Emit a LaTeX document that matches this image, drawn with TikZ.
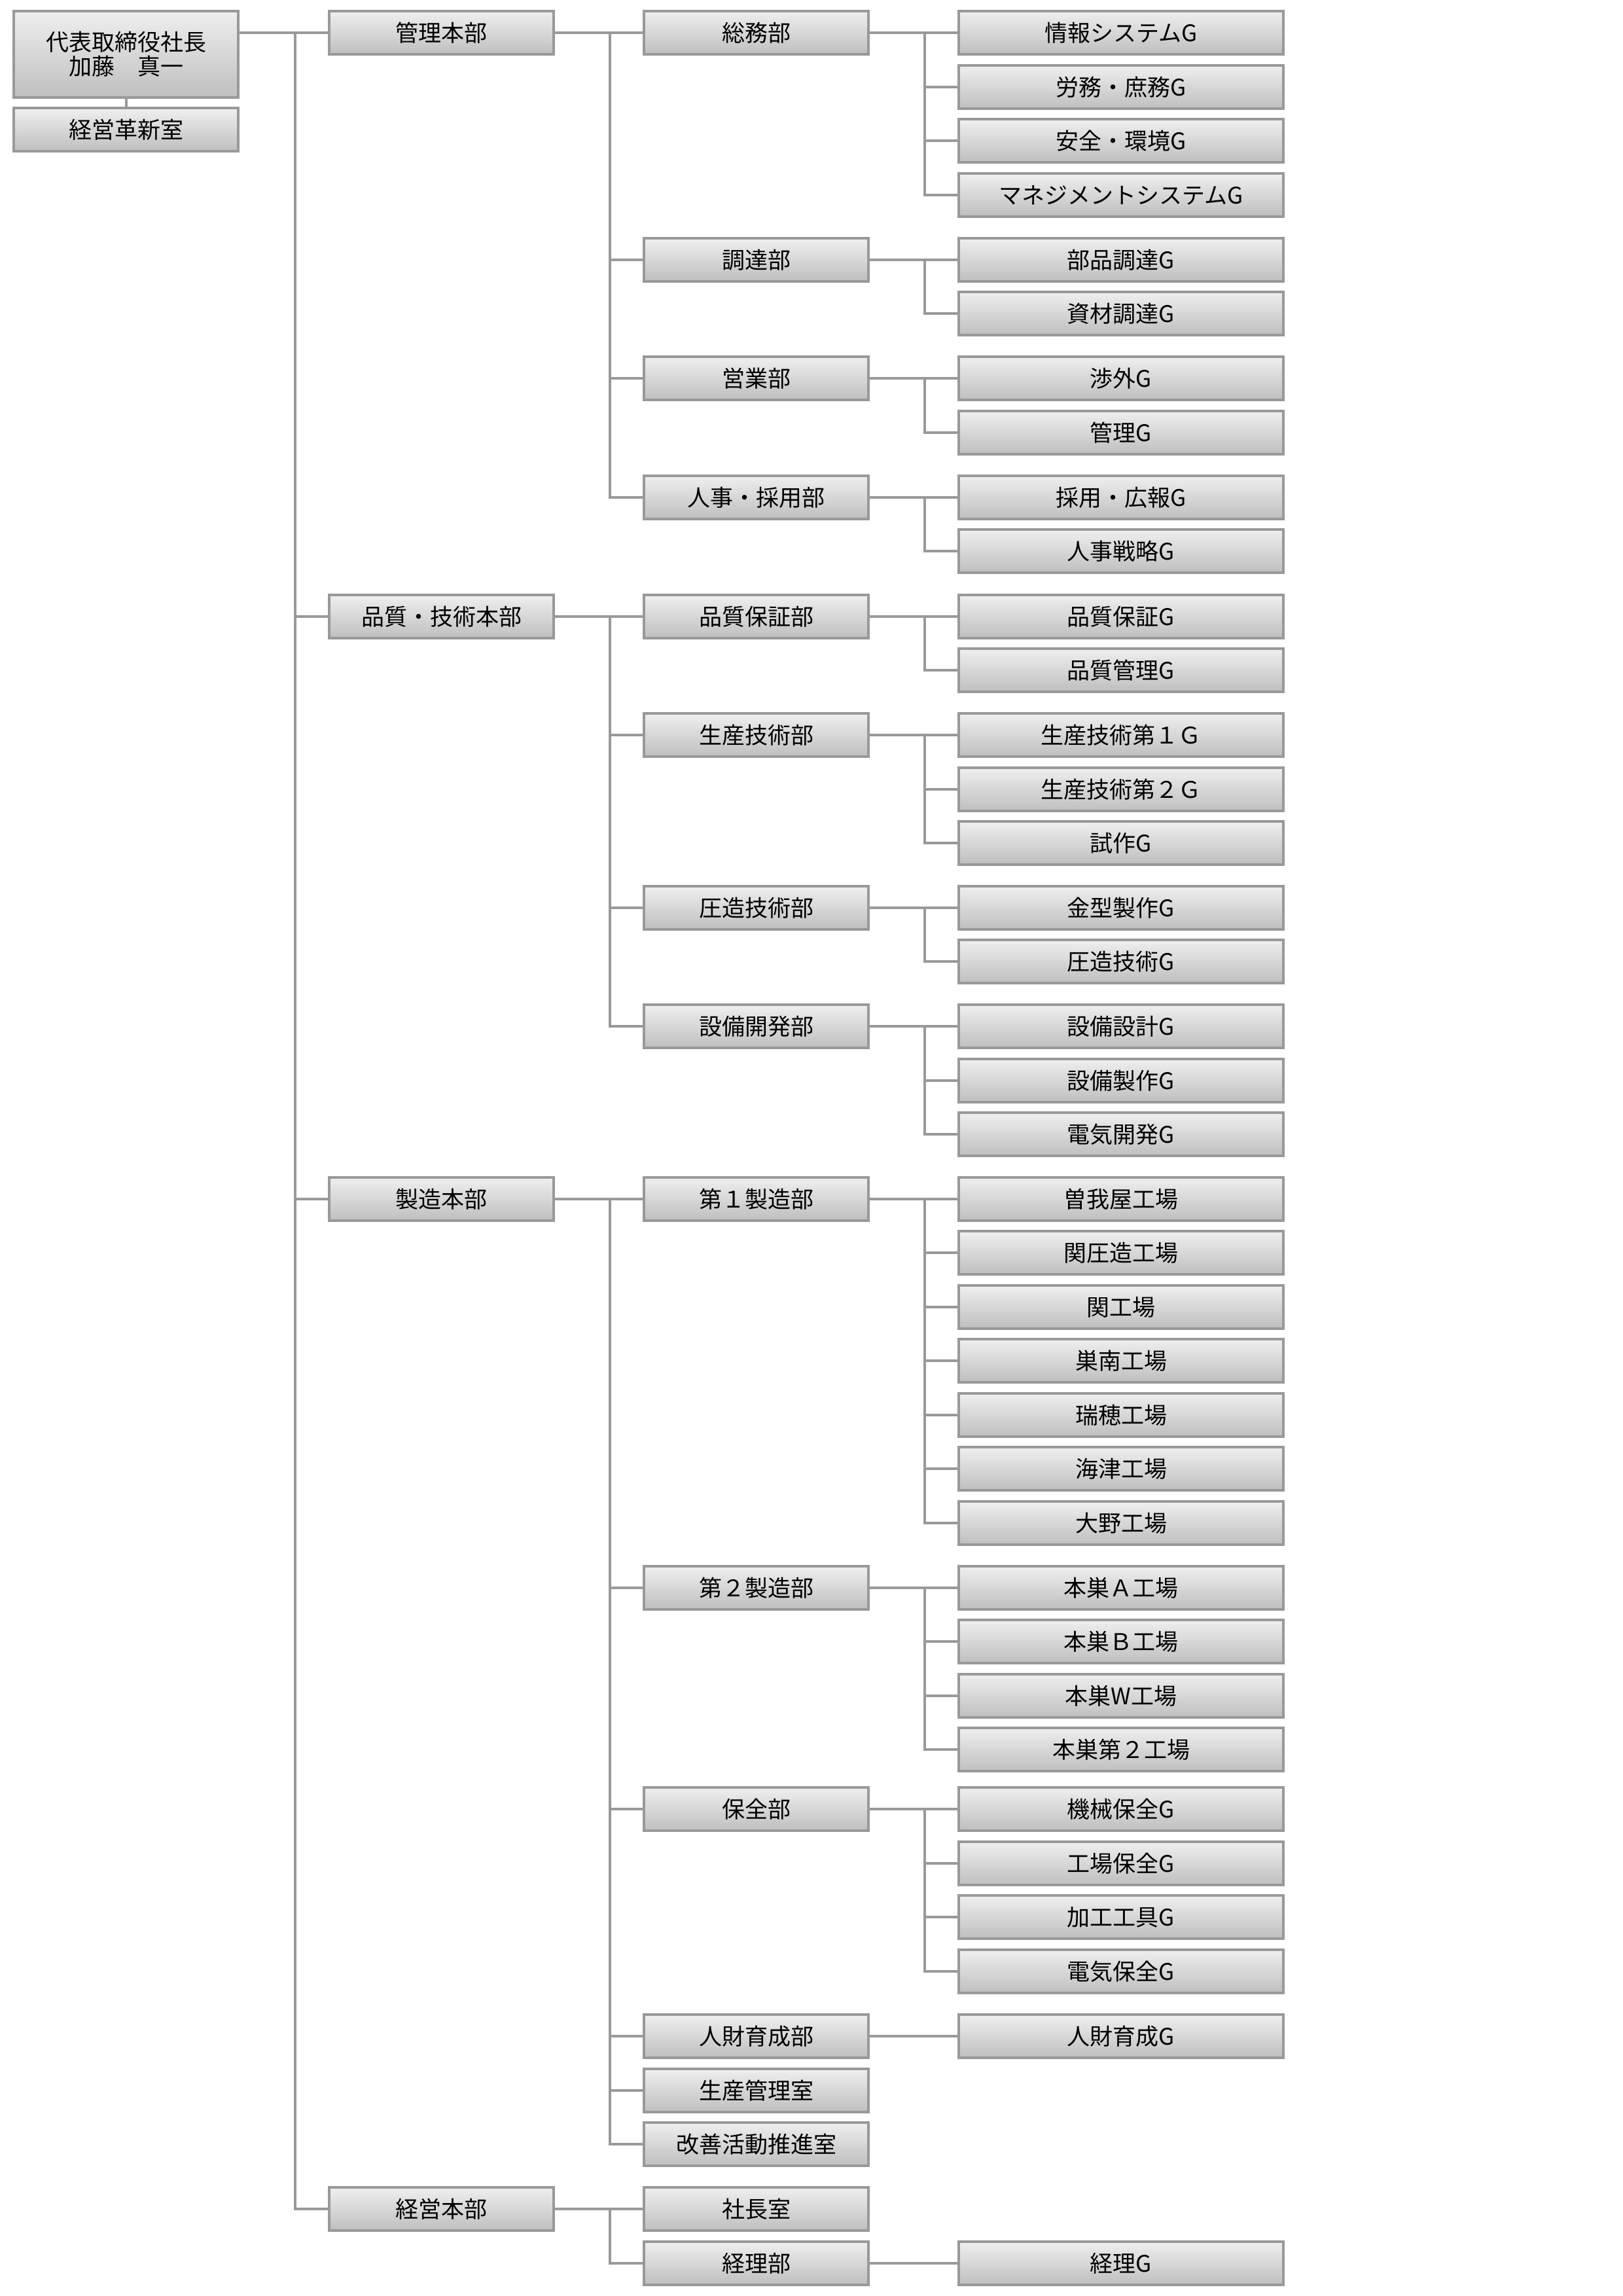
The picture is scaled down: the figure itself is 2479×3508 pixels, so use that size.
\documentclass[tikz,border=0pt]{standalone}
\usepackage{fontspec}
\setmainfont{Noto Sans CJK JP}
\definecolor{boxline}{HTML}{999999}
\definecolor{boxlinedark}{HTML}{8E8E8E}
\definecolor{lineclr}{HTML}{999999}
\definecolor{boxtop}{HTML}{EFEFEF}
\definecolor{boxbot}{HTML}{BFBFBF}
\newcommand\orgfan[4]{%
  \draw[conn] (#1.east) -- (#2 |- #1);
  \draw[conn] (#2 |- #1) -- (#2 |- #4) -- (#4.west);
  \foreach \c in {#3} {\draw[conn] (#2 |- \c) -- (\c.west);}
}
\begin{document}
\begin{tikzpicture}[x=1pt,y=-1pt,
  box/.style={draw=boxline, line width=4pt, top color=boxtop, bottom color=boxbot,
    minimum height=65.5pt, inner sep=0pt, align=center,
    font=\fontsize{35}{37}\selectfont,
    path picture={\draw[line width=4pt, boxlinedark] (path picture bounding box.south west) -- (path picture bounding box.south east);}},
  narrowbox/.style={box, minimum width=343pt},
  widebox/.style={box, minimum width=496pt},
  conn/.style={draw=lineclr, line width=4pt}]
\useasboundingbox (0,0) rectangle (2479,3508);
\fill[white] (0,0) rectangle (2479,3508);

% president
\node[narrowbox, minimum height=132pt] (pres) at (192.5,83) {代表取締役社長\\加藤　真一};
\node[narrowbox] (kakushin) at (192.5,198) {経営革新室};

% divisions
\node[narrowbox] (m1) at (674.5,50) {管理本部};
\node[narrowbox] (m2) at (674.5,942) {品質・技術本部};
\node[narrowbox] (m3) at (674.5,1832) {製造本部};
\node[narrowbox] (m4) at (674.5,3375) {経営本部};

% departments
\node[narrowbox] (b1) at (1155.5,50) {総務部};
\node[narrowbox] (b2) at (1155.5,397) {調達部};
\node[narrowbox] (b3) at (1155.5,578) {営業部};
\node[narrowbox] (b4) at (1155.5,760) {人事・採用部};
\node[narrowbox] (b5) at (1155.5,942) {品質保証部};
\node[narrowbox] (b6) at (1155.5,1123) {生産技術部};
\node[narrowbox] (b7) at (1155.5,1387) {圧造技術部};
\node[narrowbox] (b8) at (1155.5,1568) {設備開発部};
\node[narrowbox] (b9) at (1155.5,1832) {第１製造部};
\node[narrowbox] (b10) at (1155.5,2426) {第２製造部};
\node[narrowbox] (b11) at (1155.5,2764) {保全部};
\node[narrowbox] (b12) at (1155.5,3111) {人財育成部};
\node[narrowbox] (b13) at (1155.5,3194) {生産管理室};
\node[narrowbox] (b14) at (1155.5,3276) {改善活動推進室};
\node[narrowbox] (b15) at (1155.5,3375) {社長室};
\node[narrowbox] (b16) at (1155.5,3458) {経理部};

% groups
\node[widebox] (g1) at (1713,50) {情報システムG};
\node[widebox] (g2) at (1713,133) {労務・庶務G};
\node[widebox] (g3) at (1713,215) {安全・環境G};
\node[widebox] (g4) at (1713,298) {マネジメントシステムG};
\node[widebox] (g5) at (1713,397) {部品調達G};
\node[widebox] (g6) at (1713,479) {資材調達G};
\node[widebox] (g7) at (1713,578) {渉外G};
\node[widebox] (g8) at (1713,661) {管理G};
\node[widebox] (g9) at (1713,760) {採用・広報G};
\node[widebox] (g10) at (1713,842) {人事戦略G};
\node[widebox] (g11) at (1713,942) {品質保証G};
\node[widebox] (g12) at (1713,1024) {品質管理G};
\node[widebox] (g13) at (1713,1123) {生産技術第１Ｇ};
\node[widebox] (g14) at (1713,1206) {生産技術第２Ｇ};
\node[widebox] (g15) at (1713,1288) {試作G};
\node[widebox] (g16) at (1713,1387) {金型製作G};
\node[widebox] (g17) at (1713,1469) {圧造技術G};
\node[widebox] (g18) at (1713,1568) {設備設計G};
\node[widebox] (g19) at (1713,1651) {設備製作G};
\node[widebox] (g20) at (1713,1733) {電気開発G};
\node[widebox] (g21) at (1713,1832) {曽我屋工場};
\node[widebox] (g22) at (1713,1914) {関圧造工場};
\node[widebox] (g23) at (1713,1997) {関工場};
\node[widebox] (g24) at (1713,2079) {巣南工場};
\node[widebox] (g25) at (1713,2162) {瑞穂工場};
\node[widebox] (g26) at (1713,2244) {海津工場};
\node[widebox] (g27) at (1713,2327) {大野工場};
\node[widebox] (g28) at (1713,2426) {本巣Ａ工場};
\node[widebox] (g29) at (1713,2508) {本巣Ｂ工場};
\node[widebox] (g30) at (1713,2591) {本巣W工場};
\node[widebox] (g31) at (1713,2673) {本巣第２工場};
\node[widebox] (g32) at (1713,2764) {機械保全G};
\node[widebox] (g33) at (1713,2847) {工場保全G};
\node[widebox] (g34) at (1713,2929) {加工工具G};
\node[widebox] (g35) at (1713,3012) {電気保全G};
\node[widebox] (g36) at (1713,3111) {人財育成G};
\node[widebox] (g40) at (1713,3458) {経理G};

% trunk coordinates
\coordinate (T1) at (451,0);
\coordinate (T2) at (932,0);
\coordinate (T3) at (1413,0);

% president connectors
\draw[conn] (pres.south) -- (kakushin.north);
\draw[conn] (pres.east |- m1) -- (m1.west);
\draw[conn] (T1 |- m1) -- (T1 |- m4) -- (m4.west);
\foreach \c in {m2,m3} {\draw[conn] (T1 |- \c) -- (\c.west);}

% division -> departments
\orgfan{m1}{T2}{b1,b2,b3}{b4}
\orgfan{m2}{T2}{b5,b6,b7}{b8}
\orgfan{m3}{T2}{b9,b10,b11,b12,b13}{b14}
\orgfan{m4}{T2}{b15}{b16}

% departments -> groups
\orgfan{b1}{T3}{g1,g2,g3}{g4}
\orgfan{b2}{T3}{g5}{g6}
\orgfan{b3}{T3}{g7}{g8}
\orgfan{b4}{T3}{g9}{g10}
\orgfan{b5}{T3}{g11}{g12}
\orgfan{b6}{T3}{g13,g14}{g15}
\orgfan{b7}{T3}{g16}{g17}
\orgfan{b8}{T3}{g18,g19}{g20}
\orgfan{b9}{T3}{g21,g22,g23,g24,g25,g26}{g27}
\orgfan{b10}{T3}{g28,g29,g30}{g31}
\orgfan{b11}{T3}{g32,g33,g34}{g35}
\draw[conn] (b12.east) -- (g36.west);
\draw[conn] (b16.east) -- (g40.west);
\end{tikzpicture}
\end{document}
